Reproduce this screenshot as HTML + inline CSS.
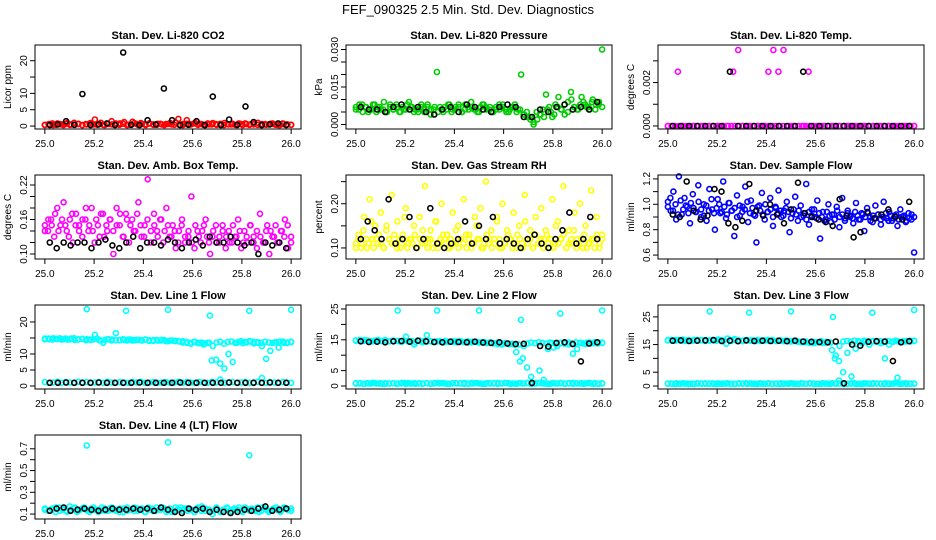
<!DOCTYPE html>
<html><head><meta charset="utf-8"><style>
body{margin:0;background:#fff;}
svg{display:block;font-family:"Liberation Sans",Arial,sans-serif;}
</style></head><body>
<svg id="chart" width="936" height="540" viewBox="0 0 936 540">
<rect width="936" height="540" fill="#fff"/>
<text x="468" y="14" text-anchor="middle" font-size="13">FEF_090325  2.5 Min. Std. Dev. Diagnostics</text>
</svg>
<script>
// ---- data ----
const xTicks = [25.0, 25.2, 25.4, 25.6, 25.8, 26.0];
const xTickLabels = ["25.0", "25.2", "25.4", "25.6", "25.8", "26.0"];
const outlierTimes = [25.17, 25.33, 25.5, 25.67, 25.83, 26.0];

const co2Red = [0.4,0.6,0.3,0.8,0.5,0.7,0.4,1.0,0.6,0.3,0.5,0.9,2.0,0.6,0.4,0.7,1.5,0.5,0.8,1.2,0.4,1.3,0.6,0.9,0.5,0.8,0.4,0.7,0.5,0.6,0.9,0.4,2.2,0.6,1.8,0.5,1.0,0.7,0.4,0.8,0.5,0.6,0.4,0.9,0.5,0.7,0.3,0.6,0.8,0.4,0.5,1.0,0.6,0.4,0.7,0.5,0.3,0.8,0.5,0.4];
const co2Red2 = [0.3,0.5,0.8,0.4,0.6,0.3,0.9,0.5,0.4,0.7,0.3,0.6,0.8,0.5,0.4,1.0,0.3,0.6,0.5,0.8,0.4,0.7,0.3,0.5,0.9,0.4,0.6,0.3,0.8,0.5,0.4,0.7,0.3,0.6,0.5,1.1,0.4,0.3,0.7,0.5,0.8,0.4,0.6,0.3,0.5,0.9,0.4,0.7,0.3,0.6,0.5,0.4,0.8,0.3,0.6,0.5,0.7,0.4,0.3,0.6,0.5,0.8,0.4,0.3,0.6,0.5,0.4];
const co2Black = [0.3,0.5,1.5,0.4,9.8,0.3,0.5,0.8,0.3,22.5,0.4,0.3,1.8,0.5,11.5,1.8,0.3,0.4,1.5,0.3,9,0.3,2,0.4,6,1.2,0.3,0.5,0.8,0.3];

const presGreen = [0.007,0.006,0.008,0.007,0.005,0.006,0.008,0.007,0.006,0.009,0.005,0.007,0.006,0.008,0.005,0.007,0.006,0.009,0.007,0.006,0.005,0.008,0.006,0.007,0.004,0.006,0.021,0.007,0.005,0.006,0.008,0.006,0.007,0.008,0.005,0.006,0.007,0.009,0.006,0.005,0.007,0.008,0.006,0.007,0.005,0.006,0.008,0.007,0.006,0.005,0.007,0.008,0.006,0.020,0.004,0.003,0.002,0.000,0.005,0.004,0.006,0.012,0.007,0.003,0.008,0.011,0.006,0.004,0.009,0.013,0.007,0.006,0.008,0.009,0.007,0.006,0.010,0.008,0.009,0.030];
const presGreen2 = [0.006,0.008,0.005,0.007,0.006,0.008,0.005,0.007,0.006,0.005,0.008,0.006,0.007,0.005,0.006,0.008,0.007,0.005,0.006,0.007,0.005,0.008,0.006,0.007,0.005,0.006,0.007,0.008,0.005,0.006,0.007,0.005,0.008,0.006,0.007,0.006,0.005,0.008,0.007,0.006,0.005,0.007,0.006,0.008,0.005,0.006,0.007,0.005,0.006,0.004,0.005,0.003,0.001,0.002,0.004,0.003,0.006,0.005,0.004,0.007,0.006,0.008,0.005,0.010,0.007,0.006,0.011,0.008,0.007,0.009,0.006,0.008,0.007];
const presBlack = [0.007,0.006,0.006,0.005,0.007,0.008,0.006,0.007,0.005,0.004,0.006,0.007,0.005,0.008,0.007,0.006,0.005,0.007,0.008,0.007,0.003,0.003,0.006,0.005,0.007,0.008,0.006,0.007,0.006,0.009];

const tempMagenta = [0,0,0.0025,0,0,0,0,0,0,0,0,0,0,0.0025,0.0035,0,0,0,0,0,0.0025,0.0035,0.0025,0.0035,0,0,0,0,0.0025,0,0,0,0,0,0,0,0,0,0,0,0,0,0,0,0,0,0,0,0,0];
const tempMagenta2 = [0,0,0,0,0,0,0,0,0,0,0,0,0,0,0,0,0,0,0,0,0,0,0,0,0,0,0,0,0,0,0,0,0,0,0,0,0,0,0,0,0,0,0,0,0,0,0,0,0,0,0,0,0,0,0,0,0,0,0,0,0,0,0,0,0,0,0];
const tempBlack = [0,0,0,0,0,0,0,0.0025,0,0,0,0,0,0,0,0,0.0025,0,0,0,0,0,0,0,0,0,0,0,0,0];

const boxMagenta = [0.15,0.14,0.16,0.13,0.18,0.15,0.19,0.14,0.16,0.12,0.17,0.15,0.13,0.16,0.14,0.18,0.12,0.15,0.17,0.13,0.14,0.16,0.10,0.18,0.15,0.13,0.17,0.12,0.16,0.14,0.19,0.13,0.15,0.23,0.12,0.17,0.14,0.16,0.12,0.18,0.13,0.15,0.11,0.14,0.16,0.12,0.13,0.20,0.11,0.14,0.12,0.15,0.13,0.10,0.14,0.12,0.13,0.15,0.11,0.14,0.12,0.13,0.16,0.11,0.14,0.12,0.15,0.13,0.11,0.17,0.12,0.14,0.10,0.13,0.15,0.12,0.14,0.16,0.11,0.13];
const boxMagenta2 = [0.14,0.16,0.15,0.17,0.14,0.16,0.15,0.13,0.17,0.15,0.14,0.16,0.18,0.15,0.14,0.16,0.13,0.17,0.15,0.16,0.14,0.15,0.17,0.13,0.16,0.15,0.14,0.17,0.15,0.13,0.16,0.14,0.15,0.13,0.16,0.14,0.15,0.13,0.14,0.12,0.15,0.13,0.14,0.12,0.15,0.13,0.14,0.16,0.12,0.13,0.15,0.12,0.14,0.13,0.12,0.15,0.13,0.14,0.12,0.13,0.15,0.12,0.14,0.13,0.12,0.15,0.14,0.13,0.12,0.14,0.13,0.15,0.12];
const boxBlack = [0.12,0.11,0.12,0.115,0.12,0.12,0.11,0.12,0.125,0.115,0.11,0.12,0.13,0.11,0.12,0.12,0.115,0.125,0.12,0.11,0.12,0.125,0.115,0.13,0.12,0.12,0.13,0.12,0.115,0.12,0.10,0.12,0.115,0.12,0.11];

const rhYellow = [0.10,0.13,0.11,0.17,0.10,0.21,0.12,0.15,0.11,0.18,0.10,0.14,0.12,0.22,0.11,0.16,0.10,0.13,0.19,0.11,0.12,0.15,0.10,0.17,0.11,0.24,0.12,0.14,0.10,0.16,0.11,0.20,0.12,0.13,0.10,0.18,0.11,0.15,0.12,0.21,0.10,0.13,0.11,0.17,0.12,0.19,0.10,0.25,0.11,0.14,0.12,0.16,0.10,0.20,0.11,0.13,0.12,0.18,0.10,0.15,0.11,0.22,0.12,0.14,0.10,0.17,0.11,0.19,0.12,0.13,0.10,0.21,0.11,0.16,0.12,0.24,0.10,0.14,0.11,0.18,0.12,0.20,0.10,0.15,0.11,0.23,0.12,0.17,0.10,0.13];
const rhYellow2 = [0.11,0.12,0.10,0.14,0.12,0.11,0.16,0.10,0.12,0.13,0.11,0.10,0.15,0.12,0.11,0.13,0.10,0.12,0.11,0.17,0.10,0.12,0.11,0.13,0.10,0.12,0.14,0.11,0.10,0.12,0.11,0.16,0.10,0.12,0.13,0.11,0.10,0.12,0.11,0.14,0.10,0.12,0.11,0.13,0.12,0.10,0.11,0.15,0.12,0.10,0.11,0.13,0.12,0.10,0.11,0.17,0.12,0.10,0.11,0.14,0.12,0.10,0.11,0.13,0.12,0.10,0.16,0.11,0.12,0.10,0.13,0.11,0.12,0.10,0.14,0.11,0.12,0.10,0.15,0.11,0.12,0.13,0.10,0.11,0.12,0.14,0.10,0.11,0.12,0.13,0.10,0.11,0.12,0.10,0.13,0.11,0.12];
const rhBlack = [0.12,0.16,0.14,0.12,0.21,0.11,0.12,0.17,0.10,0.12,0.19,0.11,0.10,0.11,0.12,0.16,0.11,0.15,0.12,0.17,0.11,0.12,0.11,0.10,0.12,0.13,0.11,0.10,0.12,0.14,0.18,0.11,0.12,0.17,0.12];

const flowBlue = [1.02,0.95,1.10,0.88,1.22,0.92,1.05,0.98,0.85,1.08,0.94,1.15,0.90,1.00,0.87,1.12,0.96,0.80,1.04,0.93,1.18,0.89,1.01,0.95,0.75,1.07,0.91,0.98,1.14,0.86,1.03,0.92,0.70,0.99,1.09,0.88,0.94,1.05,0.83,0.97,1.11,0.90,0.95,1.02,0.78,0.93,1.06,0.87,0.99,0.91,1.16,0.84,0.96,0.90,1.03,0.73,0.94,0.88,1.00,0.86,0.92,0.98,0.82,1.05,0.89,0.95,0.91,0.85,1.01,0.88,0.93,0.79,0.97,0.90,0.86,0.99,0.92,0.84,1.02,0.89,0.94,0.87,0.91,0.83,0.96,0.90,0.86,0.93,0.88,0.62];
const flowBlue2 = [0.98,1.05,0.95,1.00,0.92,1.03,0.96,0.99,0.93,1.01,0.97,0.94,1.02,0.96,0.91,0.99,0.95,1.04,0.93,0.97,1.00,0.94,0.98,0.92,1.01,0.95,0.97,0.90,0.99,0.94,0.96,1.02,0.93,0.97,0.91,0.98,0.95,0.92,1.00,0.94,0.96,0.90,0.98,0.93,0.95,0.91,0.97,0.94,0.89,0.96,0.92,0.95,0.90,0.93,0.88,0.94,0.91,0.96,0.89,0.93,0.90,0.87,0.94,0.91,0.92,0.88,0.95,0.90,0.92,0.87,0.93,0.90,0.89,0.94,0.91,0.88,0.92,0.90,0.93,0.87,0.91,0.89,0.92,0.88,0.90,0.93,0.87,0.91,0.89,0.92,0.88,0.90,0.91,0.87,0.89,0.92,0.90];
const flowBlack = [0.92,0.90,1.18,0.95,0.88,0.91,1.12,1.10,0.85,0.82,0.87,1.16,0.95,0.91,1.00,0.92,0.85,0.96,1.17,0.93,0.90,0.88,0.86,0.83,1.04,0.91,0.74,0.78,0.94,0.89,0.92,0.96,0.90,0.88,1.02];

const line1High = [14.8,14.6,14.9,14.7,14.5,14.8,14.6,14.9,14.5,14.7,14.6,14.4,16.0,14.3,13.5,14.6,14.2,16.5,14.3,14.4,14.5,14.2,14.4,14.3,14.5,14.1,14.3,14.2,14.4,14.0,14.2,14.1,14.0,13.6,13.5,13.2,13.8,13.4,13.0,13.5,8.0,8.2,7.0,5.5,10.0,7.5,13.5,14.0,13.7,14.0,13.8,13.5,12.5,8.5,11.0,13.6,12.0,13.9,13.4,13.7];
const line1High2 = [14.6,14.8,14.5,14.7,14.9,14.6,14.5,14.8,14.4,14.6,14.7,14.3,14.5,14.6,14.8,14.2,14.4,14.6,14.5,14.3,14.4,14.6,14.2,14.5,14.3,14.4,14.2,14.5,14.3,14.1,14.4,14.2,14.3,14.0,14.2,14.1,13.9,14.0,13.7,13.5,13.8,13.4,13.6,13.3,13.5,12.5,13.6,13.8,13.2,13.7,13.9,13.5,13.8,13.4,13.6,13.9,13.3,13.7,13.5,13.8,13.6,13.4,13.7,13.9,13.5,13.6,13.8];
const line1Low = [1.2,1.0,1.1,1.3,1.0,1.2,1.1,1.0,1.3,1.1,1.2,1.0,1.1,1.2,1.0,1.3,1.1,1.0,1.2,1.1,1.0,1.2,1.1,1.3,1.0,1.1,1.2,1.0,1.1,1.2,1.0,1.1,1.3,1.0,1.2,1.1,1.0,1.2,1.1,1.0,1.2,1.1,2.0,1.0,1.1,1.2,1.0,1.1,1.2,1.0,1.1,1.3,2.5,1.0,1.2,1.1,1.0,1.2,1.1,1.0];
const line1Out = [24,23.5,23.8,22,23.5,23.8];
const line1Black = [1.0,1.0,1.1,1.0,1.0,1.0,1.1,1.0,1.0,1.0,1.0,1.1,1.0,1.0,1.0,1.0,1.1,1.0,1.0,1.0,1.0,1.0,1.1,1.0,1.0,1.0,1.0,1.1,1.0,1.0];

const line2High = [14.8,14.6,14.9,14.7,14.5,14.8,14.6,14.9,14.5,14.7,14.6,14.4,16.0,14.3,13.5,14.6,14.2,16.5,14.5,14.4,14.5,14.2,14.4,14.3,14.5,14.6,14.3,14.2,14.4,14.3,14.2,14.1,14.0,13.8,13.6,13.5,13.8,13.6,13.4,13.5,9.0,6.0,3.0,1.0,5.0,2.0,12.0,14.0,13.7,14.0,13.8,13.5,10.5,12.0,14.0,13.6,14.1,13.9,13.8,14.0];
const line2High2 = [14.7,14.9,14.6,14.8,14.5,14.7,14.9,14.6,14.8,14.5,14.7,14.6,14.4,14.8,14.5,14.6,14.3,14.7,14.5,14.4,14.6,14.3,14.5,14.4,14.6,14.3,14.5,14.2,14.4,14.3,14.5,14.2,14.4,14.1,14.3,14.0,14.2,13.9,14.1,13.8,13.9,13.6,13.7,11.0,8.0,13.0,13.8,14.1,13.9,14.2,14.0,13.8,14.1,12.5,13.0,14.0,13.8,14.1,13.9,14.2,14.0,13.8,14.1,13.9,14.2,14.0,14.1];
const line2Low = [0.8,0.9,0.7,0.8,1.0,0.8,0.9,0.7,0.8,0.9,0.8,1.0,0.7,0.8,0.9,0.8,0.7,0.9,0.8,1.0,0.8,0.9,0.7,0.8,0.9,0.8,1.0,0.7,0.8,0.9,0.8,0.7,0.9,0.8,1.0,0.8,0.9,0.7,0.8,0.9,0.8,1.0,0.7,0.8,0.9,0.8,0.7,0.9,0.8,1.0,0.8,0.9,0.7,0.8,0.9,0.8,1.0,0.7,0.8,0.9];
const line2Low2 = [0.9,0.8,0.7,0.9,0.8,1.0,0.8,0.7,0.9,0.8,0.9,0.7,0.8,1.0,0.9,0.8,0.7,0.9,0.8,0.9,0.7,0.8,1.0,0.9,0.8,0.7,0.9,0.8,0.9,0.7,0.8,1.0,0.9,0.8,0.7,0.9,0.8,0.9,0.7,0.8,1.0,0.9,0.8,0.7,0.9,0.8,0.9,0.7,0.8,1.0,0.9,0.8,0.7,0.9,0.8,0.9,0.7,0.8,1.0,0.9,0.8,0.7,0.9,0.8,0.9,0.7,0.8];
const line2Out = [24.5,24.5,24.5,21.5,23.5,24.5];
const line2Black = [14.5,14.3,14.4,14.2,14.5,14.6,14.4,14.7,14.5,14.3,14.2,14.4,14.3,14.2,14.4,14.1,14.0,14.2,13.8,13.6,13.7,1.0,13.0,12.8,14.0,14.2,13.6,8.0,13.8,14.2];

const line3High = [16.6,16.4,16.7,16.5,16.3,16.6,16.4,16.7,16.5,16.6,16.4,16.5,16.8,16.3,15.3,16.6,17.0,16.5,16.4,16.6,16.5,16.3,16.4,16.5,16.7,16.4,16.3,16.5,16.4,16.2,16.3,16.1,16.0,15.8,15.6,15.5,15.8,15.6,16.0,15.7,10.0,9.0,5.0,12.0,3.5,13.5,16.0,16.4,16.2,16.1,16.3,15.5,10.0,15.0,16.0,16.2,15.8,16.1,16.4,16.3];
const line3High2 = [16.5,16.7,16.4,16.6,16.8,16.5,16.4,16.7,16.5,16.6,16.3,16.5,16.7,16.4,16.6,16.5,17.2,16.4,16.6,16.5,16.3,16.6,16.4,16.5,16.7,16.3,16.5,16.4,16.6,16.3,16.4,16.2,16.4,16.1,16.3,16.0,15.8,16.1,15.7,16.0,15.9,16.2,15.6,15.8,13.0,11.0,14.5,16.1,16.3,16.0,16.4,16.2,15.5,16.1,15.0,16.3,16.0,16.2,15.9,16.3,16.1,16.4,16.0,16.2,16.3,16.1,16.4];
const line3Low = [0.9,0.8,1.0,0.8,0.9,0.7,0.8,1.0,0.9,0.8,0.9,0.8,1.0,0.8,0.9,0.7,0.8,1.0,0.9,0.8,0.9,0.8,1.0,0.8,0.9,0.7,0.8,1.0,0.9,0.8,0.9,0.8,1.0,0.8,0.9,0.7,0.8,1.0,0.9,0.8,0.9,2.0,1.0,0.8,0.9,0.7,0.8,1.0,0.9,0.8,0.9,0.8,1.0,0.8,0.9,3.0,0.8,1.0,0.9,0.8];
const line3Low2 = [0.8,0.9,0.7,0.8,1.0,0.9,0.8,0.7,0.9,0.8,1.0,0.8,0.9,0.7,0.8,0.9,1.0,0.8,0.7,0.9,0.8,1.0,0.9,0.8,0.7,0.9,0.8,1.0,0.8,0.9,0.7,0.8,0.9,1.0,0.8,0.7,0.9,0.8,1.0,0.9,0.8,0.7,0.9,0.8,1.0,0.8,0.9,0.7,0.8,0.9,1.0,0.8,0.7,0.9,0.8,1.0,0.9,0.8,0.7,0.9,0.8,1.0,0.8,0.9,0.7,0.8,0.9];
const line3Out = [27,26.5,27,25,26.5,27.5];
const line3Black = [16.4,16.5,16.3,16.4,16.5,16.6,16.3,16.4,16.2,16.5,16.3,16.4,16.3,16.4,16.2,16.4,16.1,16.0,15.9,15.8,16.1,1.0,15.0,14.6,16.0,16.2,16.1,9.0,15.8,16.2];

const line4Cyan = [0.14,0.13,0.15,0.12,0.16,0.14,0.13,0.17,0.15,0.12,0.14,0.16,0.13,0.15,0.14,0.12,0.16,0.13,0.15,0.14,0.13,0.15,0.12,0.16,0.14,0.13,0.15,0.14,0.12,0.16,0.15,0.13,0.14,0.16,0.12,0.15,0.13,0.14,0.16,0.15,0.13,0.14,0.12,0.15,0.17,0.13,0.14,0.10,0.15,0.13,0.14,0.16,0.12,0.15,0.14,0.13,0.16,0.14,0.15,0.13,0.12,0.16,0.14,0.13,0.15,0.14,0.12,0.16,0.14,0.15];
const line4Cyan2 = [0.15,0.13,0.14,0.16,0.13,0.15,0.12,0.14,0.16,0.13,0.15,0.14,0.12,0.16,0.14,0.13,0.15,0.13,0.16,0.14,0.12,0.15,0.13,0.14,0.16,0.13,0.15,0.12,0.14,0.13,0.16,0.14,0.15,0.13,0.12,0.16,0.14,0.13,0.15,0.14,0.12,0.16,0.13,0.15,0.14,0.13,0.16,0.12,0.14,0.15,0.13,0.14,0.16,0.12,0.15,0.13,0.14,0.16,0.13,0.15,0.12,0.14,0.16,0.13,0.15,0.14,0.13];
const line4Out = [0.73,0.76,0.64];
const line4OutTimes = [25.17, 25.5, 25.83];
const line4Black = [0.13,0.15,0.16,0.13,0.14,0.15,0.14,0.13,0.14,0.15,0.14,0.14,0.15,0.14,0.15,0.13,0.16,0.14,0.12,0.11,0.15,0.14,0.15,0.12,0.14,0.12,0.11,0.12,0.14,0.13,0.15,0.17,0.13,0.14,0.15];

// ---- drawing ----
const NS = "http://www.w3.org/2000/svg";
const svg = document.getElementById("chart");
function mk(tag, attrs, parent) {
  const e = document.createElementNS(NS, tag);
  for (const k in attrs) e.setAttribute(k, attrs[k]);
  (parent || svg).appendChild(e);
  return e;
}
function evenTimes(n) { const t = []; for (let i = 0; i < n; i++) t.push(25 + i / (n - 1)); return t; }
function blackTimes(n) { const t = []; for (let i = 0; i < n; i++) t.push(25.02 + i * 0.96 / (n - 1)); return t; }

const colX = [35, 346, 658], rowY = [45, 175, 305, 435], BW = 266, BH = 84;

const panels = [
  {name:"co2", title:"Stan. Dev. Li-820 CO2", ylab:"Licor ppm", c:0, r:0, dom:[-0.9,24.8], ticks:[0,5,10,15,20], labels:["0","5","10","","20"],
   series:[{v:co2Red,col:"#ff0000"},{v:co2Red2,col:"#ff0000"},{v:co2Black,col:"#000",b:1}]},
  {name:"pressure", title:"Stan. Dev. Li-820 Pressure", ylab:"kPa", c:1, r:0, dom:[-0.0018,0.0318], ticks:[0,0.005,0.01,0.015,0.02,0.025,0.03], labels:["0.000","","","0.015","","","0.030"],
   series:[{v:presGreen,col:"#00cc00"},{v:presGreen2,col:"#00cc00"},{v:presBlack,col:"#000",b:1}]},
  {name:"temp", title:"Stan. Dev. Li-820 Temp.", ylab:"degrees C", c:2, r:0, dom:[-0.00014,0.00373], ticks:[0,0.001,0.002,0.003], labels:["0.000","","0.002",""],
   series:[{v:tempMagenta,col:"#ff00ff"},{v:tempMagenta2,col:"#ff00ff"},{v:tempBlack,col:"#000",b:1}]},
  {name:"amb-box-temp", title:"Stan. Dev. Amb. Box Temp.", ylab:"degrees C", c:0, r:1, dom:[0.0913,0.2374], ticks:[0.10,0.12,0.14,0.16,0.18,0.20,0.22], labels:["0.10","","","0.16","","","0.22"],
   series:[{v:boxMagenta,col:"#ff00ff"},{v:boxMagenta2,col:"#ff00ff"},{v:boxBlack,col:"#000",b:1}]},
  {name:"gas-rh", title:"Stan. Dev. Gas Stream RH", ylab:"percent", c:1, r:1, dom:[0.075,0.265], ticks:[0.10,0.15,0.20,0.25], labels:["0.10","","0.20",""],
   series:[{v:rhYellow,col:"#ffff00"},{v:rhYellow2,col:"#ffff00"},{v:rhBlack,col:"#000",b:1}]},
  {name:"sample-flow", title:"Stan. Dev. Sample Flow", ylab:"ml/min", c:2, r:1, dom:[0.569,1.231], ticks:[0.6,0.7,0.8,0.9,1.0,1.1,1.2], labels:["0.6","","0.8","","1.0","","1.2"],
   series:[{v:flowBlue,col:"#0000ff"},{v:flowBlue2,col:"#0000ff"},{v:flowBlack,col:"#000",b:1}]},
  {name:"line1-flow", title:"Stan. Dev. Line 1 Flow", ylab:"ml/min", c:0, r:2, dom:[-0.94,25.3], ticks:[0,5,10,15,20], labels:["0","5","10","","20"],
   series:[{v:line1High,col:"#00ffff"},{v:line1High2,col:"#00ffff"},{v:line1Low,col:"#00ffff"},{v:line1Out,t:outlierTimes,col:"#00ffff"},{v:line1Black,col:"#000",b:1}]},
  {name:"line2-flow", title:"Stan. Dev. Line 2 Flow", ylab:"ml/min", c:1, r:2, dom:[-0.97,26.3], ticks:[0,5,10,15,20,25], labels:["0","5","","15","","25"],
   series:[{v:line2High,col:"#00ffff"},{v:line2High2,col:"#00ffff"},{v:line2Low,col:"#00ffff"},{v:line2Low2,col:"#00ffff"},{v:line2Out,t:outlierTimes,col:"#00ffff"},{v:line2Black,col:"#000",b:1}]},
  {name:"line3-flow", title:"Stan. Dev. Line 3 Flow", ylab:"ml/min", c:2, r:2, dom:[-1.07,29.3], ticks:[0,5,10,15,20,25], labels:["0","5","","15","","25"],
   series:[{v:line3High,col:"#00ffff"},{v:line3High2,col:"#00ffff"},{v:line3Low,col:"#00ffff"},{v:line3Low2,col:"#00ffff"},{v:line3Out,t:outlierTimes,col:"#00ffff"},{v:line3Black,col:"#000",b:1}]},
  {name:"line4-flow", title:"Stan. Dev. Line 4 (LT) Flow", ylab:"ml/min", c:0, r:3, dom:[0.0545,0.827], ticks:[0.1,0.2,0.3,0.4,0.5,0.6,0.7], labels:["0.1","","0.3","","0.5","","0.7"],
   series:[{v:line4Cyan,col:"#00ffff"},{v:line4Cyan2,col:"#00ffff"},{v:line4Out,t:line4OutTimes,col:"#00ffff"},{v:line4Black,col:"#000",b:1}]}
];

panels.forEach(p => {
  const L = colX[p.c], T = rowY[p.r];
  const g = mk("g", {});
  
  
  const xs = v => L + BW * (v - 24.96) / 1.08;
  const ys = v => T + BH - BH * (v - p.dom[0]) / (p.dom[1] - p.dom[0]);
  const title = mk("text", {x: L + BW / 2, y: T - 6, "text-anchor": "middle", "font-size": 11, "font-weight": "bold"}, g);
  title.textContent = p.title;
  
  
  const yl = mk("text", {x: 0, y: 0, transform: `translate(${L - 24},${T + BH / 2}) rotate(-90)`, "text-anchor": "middle", "font-size": 10}, g);
  yl.textContent = p.ylab;
  
  
  const pg = mk("g", {}, g);
  
  
  p.series.forEach(s => {
    const t = s.t || (s.b ? blackTimes(s.v.length) : evenTimes(s.v.length));
    s.v.forEach((v, i) => {
      const c = mk("circle", {cx: xs(t[i]).toFixed(1), cy: ys(v).toFixed(1), r: 2.5, fill: "none", stroke: s.col, "stroke-width": s.b ? 1.6 : 1.6}, pg);
      
      
    });
  });
  const box = mk("rect", {x: L, y: T, width: BW, height: BH, fill: "none", stroke: "#000", "stroke-width": 1}, g);
  
  
  xTicks.forEach((v, i) => {
    const x = xs(v);
    mk("line", {x1: x, x2: x, y1: T + BH, y2: T + BH + 5, stroke: "#000"}, g);
    const tl = mk("text", {x: x, y: T + BH + 18, "text-anchor": "middle", "font-size": 10}, g);
    tl.textContent = xTickLabels[i];
    
    
  });
  p.ticks.forEach((v, i) => {
    const y = ys(v);
    mk("line", {x1: L - 5, x2: L, y1: y, y2: y, stroke: "#000"}, g);
    if (p.labels[i]) {
      const tl = mk("text", {x: 0, y: 0, transform: `translate(${L - 8},${y}) rotate(-90)`, "text-anchor": "middle", "font-size": 10}, g);
      tl.textContent = p.labels[i];
      
      
    }
  });
});
</script>
</body></html>
